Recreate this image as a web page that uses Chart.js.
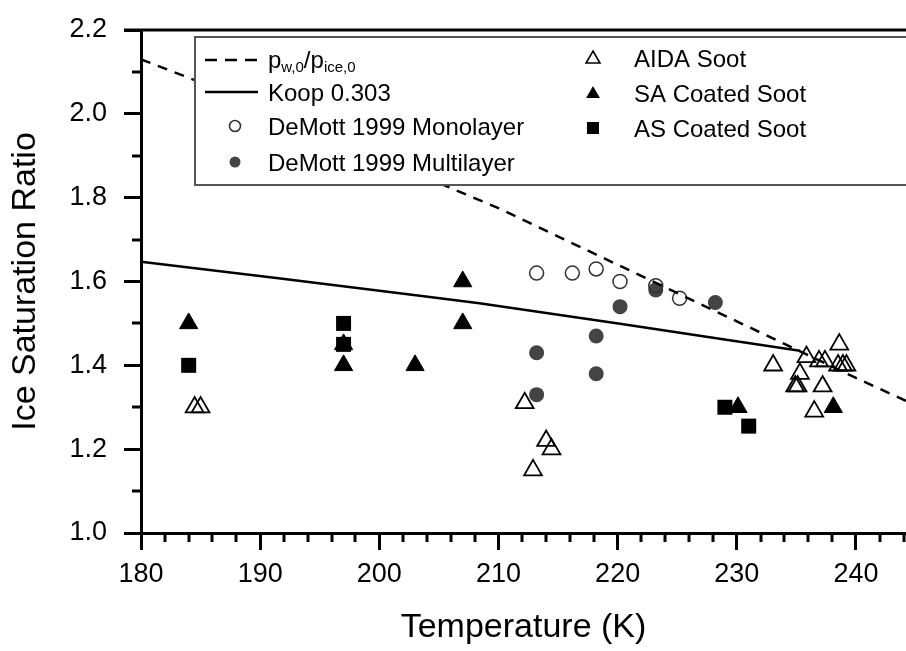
<!DOCTYPE html>
<html>
<head>
<meta charset="utf-8">
<script src="https://cdn.jsdelivr.net/npm/chart.js@4.4.0/dist/chart.umd.min.js"></script>
<style>
  html, body { margin: 0; padding: 0; background: #fff; }
</style>
</head>
<body>
<canvas id="iceChart" width="906" height="651"></canvas>
<script>
const FONT = '"Liberation Sans", Arial, Helvetica, sans-serif';

// p_w,0 / p_ice,0 curve
const ratioT = [180, 190, 200, 210, 220, 230, 240, 244.2];
const ratioS = [2.13, 2.02, 1.895, 1.775, 1.64, 1.505, 1.37, 1.315];

// Koop 0.303 line
const koopT = [180, 191.7, 203.4, 208.4, 220.2, 229.4, 235.3];
const koopS = [1.647, 1.607, 1.566, 1.548, 1.499, 1.46, 1.435];

// DeMott 1999
const monoT = [213.2, 216.2, 218.2, 220.2, 223.2, 225.2];
const monoS = [1.62, 1.62, 1.63, 1.60, 1.59, 1.56];
const multiT = [223.2, 220.2, 228.2, 218.2, 213.2, 218.2, 213.2];
const multiS = [1.58, 1.54, 1.55, 1.47, 1.43, 1.38, 1.33];

// AIDA soot
const aidaT = [184.5, 185.0, 212.2, 212.9, 214.0, 214.45, 233.05, 234.9, 235.1, 235.3, 235.85,
               236.5, 236.9, 237.2, 237.4, 238.5, 238.6, 238.9, 239.2];
const aidaS = [1.30, 1.30, 1.31, 1.15, 1.22, 1.20, 1.40, 1.35, 1.35, 1.38, 1.42,
               1.29, 1.41, 1.35, 1.41, 1.40, 1.45, 1.40, 1.40];

// SA coated soot
const saT = [184, 197, 197, 203, 207, 207, 230.1, 238.1];
const saS = [1.50, 1.45, 1.40, 1.40, 1.60, 1.50, 1.30, 1.30];

// AS coated soot
const asT = [184, 197, 197, 229, 231];
const asS = [1.40, 1.50, 1.45, 1.30, 1.255];

const xTicksMajor = [180, 190, 200, 210, 220, 230, 240];
const yTicksMajor = [1.0, 1.2, 1.4, 1.6, 1.8, 2.0, 2.2];

function pts(xs, ys) {
  return xs.map((x, i) => ({ x: x, y: ys[i] }));
}

const GREY = '#444444';

// small ticks between the labelled ones + top frame line
const minorTicks = {
  id: 'minorTicks',
  afterDraw(chart) {
    const { ctx, chartArea, scales } = chart;
    const xs = scales.x, ys = scales.y;
    ctx.save();
    ctx.strokeStyle = '#000';
    ctx.lineWidth = 3;
    ctx.beginPath();
    for (let t = 182; t <= 244; t += 2) {
      if (t % 10 === 0) continue;
      const px = Math.round(xs.getPixelForValue(t));
      ctx.moveTo(px, chartArea.bottom);
      ctx.lineTo(px, chartArea.bottom + 9);
    }
    for (let v = 1.1; v < 2.2; v += 0.2) {
      const py = Math.round(ys.getPixelForValue(v));
      ctx.moveTo(chartArea.left, py);
      ctx.lineTo(chartArea.left - 9, py);
    }
    ctx.moveTo(chartArea.left - 17, chartArea.top);
    ctx.lineTo(chartArea.right, chartArea.top);
    ctx.stroke();
    ctx.restore();
  }
};

function sym(ctx, kind, x, y) {
  ctx.save();
  ctx.lineWidth = 1.6;
  if (kind === 'dash' || kind === 'line') {
    ctx.strokeStyle = '#000';
    ctx.lineWidth = 2.5;
    ctx.setLineDash(kind === 'dash' ? [12, 8] : []);
    ctx.beginPath();
    ctx.moveTo(x - 30, y);
    ctx.lineTo(x + 23, y);
    ctx.stroke();
  } else if (kind === 'ocircle' || kind === 'fcircle') {
    ctx.beginPath();
    ctx.arc(x, y, 5.5, 0, Math.PI * 2);
    if (kind === 'fcircle') { ctx.fillStyle = GREY; ctx.fill(); }
    else { ctx.strokeStyle = '#333'; ctx.stroke(); }
  } else if (kind === 'otri' || kind === 'ftri') {
    const r = 8;
    ctx.beginPath();
    ctx.moveTo(x, y - r);
    ctx.lineTo(x + r * 0.866, y + r / 2);
    ctx.lineTo(x - r * 0.866, y + r / 2);
    ctx.closePath();
    if (kind === 'ftri') { ctx.fillStyle = '#000'; ctx.fill(); }
    else { ctx.strokeStyle = '#000'; ctx.stroke(); }
  } else if (kind === 'square') {
    ctx.fillStyle = '#000';
    ctx.fillRect(x - 6, y - 6, 12, 12);
  }
  ctx.restore();
}

const legendBox = {
  id: 'legendBox',
  afterDraw(chart) {
    const ctx = chart.ctx;
    ctx.save();
    ctx.fillStyle = '#fff';
    ctx.fillRect(195, 37, 720, 148);
    ctx.strokeStyle = '#555';
    ctx.lineWidth = 2;
    ctx.strokeRect(195, 37, 720, 148);

    ctx.fillStyle = '#000';
    ctx.textBaseline = 'alphabetic';
    ctx.textAlign = 'left';
    const big = '24px ' + FONT, small = '15px ' + FONT;

    // left column
    sym(ctx, 'dash', 235, 60);
    let x = 268;
    const base1 = 68;
    ctx.font = big; ctx.fillText('p', x, base1); x += ctx.measureText('p').width;
    ctx.font = small; ctx.fillText('w,0', x, base1 + 4); x += ctx.measureText('w,0').width;
    ctx.font = big; ctx.fillText('/p', x, base1); x += ctx.measureText('/p').width;
    ctx.font = small; ctx.fillText('ice,0', x, base1 + 4);

    sym(ctx, 'line', 235, 92);
    ctx.font = big;
    ctx.fillText('Koop 0.303', 268, 101);
    sym(ctx, 'ocircle', 235, 126);
    ctx.fillText('DeMott 1999 Monolayer', 268, 135);
    sym(ctx, 'fcircle', 235, 162);
    ctx.fillText('DeMott 1999 Multilayer', 268, 171);

    // right column
    sym(ctx, 'otri', 593, 59);
    ctx.fillText('AIDA Soot', 634, 67);
    sym(ctx, 'ftri', 593, 94);
    ctx.fillText('SA Coated Soot', 634, 102);
    sym(ctx, 'square', 593, 128);
    ctx.fillText('AS Coated Soot', 634, 137);
    ctx.restore();
  }
};

const ctx = document.getElementById('iceChart').getContext('2d');
const iceChart = new Chart(ctx, {
  type: 'scatter',
  data: {
    datasets: [
      {
        label: 'p_w,0/p_ice,0',
        data: pts(ratioT, ratioS),
        showLine: true,
        borderColor: '#000',
        borderWidth: 2.5,
        borderDash: [10, 8],
        pointRadius: 0,
        order: 0
      },
      {
        label: 'Koop 0.303',
        data: pts(koopT, koopS),
        showLine: true,
        borderColor: '#000',
        borderWidth: 2.5,
        pointRadius: 0,
        order: 1
      },
      {
        label: 'DeMott 1999 Monolayer',
        data: pts(monoT, monoS),
        pointStyle: 'circle',
        pointRadius: 7,
        borderWidth: 1.5,
        borderColor: '#333',
        backgroundColor: 'rgba(0,0,0,0)',
        order: 2
      },
      {
        label: 'DeMott 1999 Multilayer',
        data: pts(multiT, multiS),
        pointStyle: 'circle',
        pointRadius: 7.5,
        borderWidth: 0,
        backgroundColor: GREY,
        order: 3
      },
      {
        label: 'AS Coated Soot',
        data: pts(asT, asS),
        pointStyle: 'rect',
        pointRadius: 10.6,
        borderWidth: 0,
        backgroundColor: '#000',
        order: 4
      },
      {
        label: 'SA Coated Soot',
        data: pts(saT, saS),
        pointStyle: 'triangle',
        pointRadius: 10.5,
        borderWidth: 1,
        borderColor: '#000',
        backgroundColor: '#000',
        order: 5
      },
      {
        label: 'AIDA Soot',
        data: pts(aidaT, aidaS),
        pointStyle: 'triangle',
        pointRadius: 10.3,
        borderWidth: 1.8,
        borderColor: '#000',
        backgroundColor: 'rgba(0,0,0,0)',
        order: 6
      }
    ]
  },
  options: {
    responsive: false,
    animation: false,
    devicePixelRatio: 1,
    layout: { autoPadding: false, padding: { top: 30, right: 0, left: 0, bottom: 0 } },
    plugins: {
      legend: { display: false },
      tooltip: { enabled: false }
    },
    scales: {
      x: {
        type: 'linear',
        min: 180,
        max: 244.2,
        afterFit: s => { s.height = 118; s.paddingRight = 0; s.paddingLeft = 0; },
        afterBuildTicks: s => { s.ticks = xTicksMajor.map(v => ({ value: v })); },
        border: { display: true, color: '#000', width: 3 },
        grid: { drawOnChartArea: false, drawTicks: true, tickLength: 17, tickWidth: 3, tickColor: '#000' },
        ticks: { color: '#000', font: { family: FONT, size: 27 }, padding: 8, maxRotation: 0 },
        title: {
          display: true,
          text: 'Temperature (K)',
          color: '#000',
          font: { family: FONT, size: 34 },
          padding: { top: 0, bottom: 3 }
        }
      },
      y: {
        type: 'linear',
        min: 1.0,
        max: 2.2,
        afterFit: s => { s.width = 141; s.paddingTop = 0; s.paddingBottom = 0; },
        afterBuildTicks: s => { s.ticks = yTicksMajor.map(v => ({ value: v })); },
        border: { display: true, color: '#000', width: 3 },
        grid: { drawOnChartArea: false, drawTicks: true, tickLength: 17, tickWidth: 3, tickColor: '#000' },
        ticks: {
          color: '#000',
          font: { family: FONT, size: 27 },
          padding: 17,
          callback: v => Number(v).toFixed(1)
        },
        title: {
          display: true,
          text: 'Ice Saturation Ratio',
          color: '#000',
          font: { family: FONT, size: 34 },
          padding: { top: 5, bottom: 0 }
        }
      }
    }
  },
  plugins: [minorTicks, legendBox]
});
</script>
</body>
</html>
